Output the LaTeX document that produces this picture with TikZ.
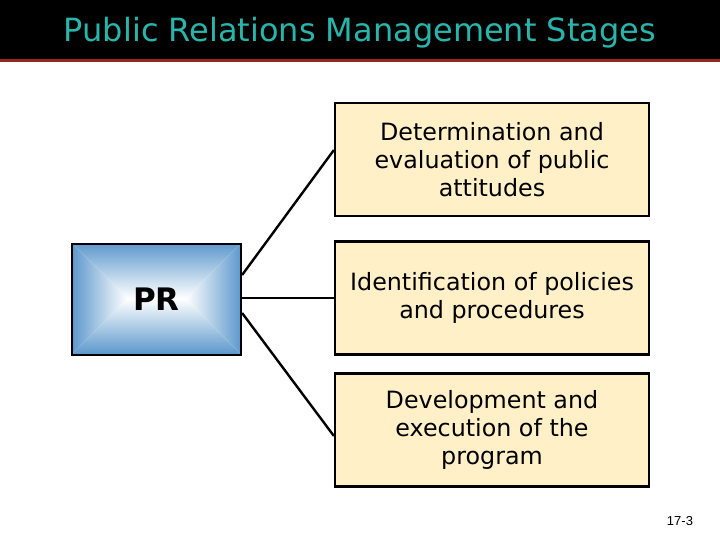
\documentclass[tikz,border=0pt]{standalone}
\usepackage{fontspec}
\setmainfont{DejaVu Sans}
\newfontfamily\pagefont{Liberation Sans}
\definecolor{titleteal}{RGB}{40,182,172}
\definecolor{barred}{RGB}{150,40,32}
\definecolor{prblue}{RGB}{92,152,204}
\definecolor{stagefill}{RGB}{255,240,200}
\begin{document}
\begin{tikzpicture}[x=1pt,y=-1pt,
  stagebox/.style={draw=black,line width=2.2pt,fill=stagefill,minimum width=314pt,minimum height=113pt,align=center,inner sep=0pt,font=\fontsize{23.8}{28.3}\selectfont},
  link/.style={draw=black,line width=2.4pt}]
\useasboundingbox (0,0) rectangle (720,540);
\fill[white] (0,0) rectangle (720,540);
\fill[black] (0,0) rectangle (720,59);
\fill[barred] (0,59) rectangle (720,62);
\node[text=titleteal,font=\fontsize{32}{36}\selectfont] (title) at (360,33) {Public Relations Management Stages};
% PR box with rectangular gradient
\def\xa{72}\def\xb{241}\def\ya{243}\def\yb{354}
\def\cy{298.5}
\shade[top color=prblue,bottom color=white] (\xa,\ya) -- (\xb,\ya) -- (185.5,\cy) -- (127.5,\cy) -- cycle;
\shade[bottom color=prblue,top color=white] (\xa,\yb) -- (\xb,\yb) -- (185.5,\cy) -- (127.5,\cy) -- cycle;
\shade[left color=prblue,right color=white] (\xa,\ya) -- (127.5,\cy) -- (\xa,\yb) -- cycle;
\shade[right color=prblue,left color=white] (\xb,\ya) -- (185.5,\cy) -- (\xb,\yb) -- cycle;
\node[draw=black,line width=2.2pt,minimum width=169pt,minimum height=111pt,inner sep=0pt,font=\fontsize{31}{36}\selectfont\bfseries] (pr) at (156.5,299.5) {PR};
\node[stagebox] (s1) at (492,159.5) {Determination and\\evaluation of public\\attitudes};
\node[stagebox] (s2) at (492,298) {Identification of policies\\and procedures};
\node[stagebox] (s3) at (492,430) {Development and\\execution of the\\program};
\draw[link] ([yshift=24.5pt]pr.east) -- ([yshift=9.5pt]s1.west);
\draw[link] (pr.east |- s2.west) -- (s2.west);
\draw[link] ([yshift=-13.5pt]pr.east) -- ([yshift=-6pt]s3.west);
\node[font=\fontsize{13}{15}\selectfont\pagefont] (pg) at (680,521) {17-3};
\end{tikzpicture}
\end{document}
